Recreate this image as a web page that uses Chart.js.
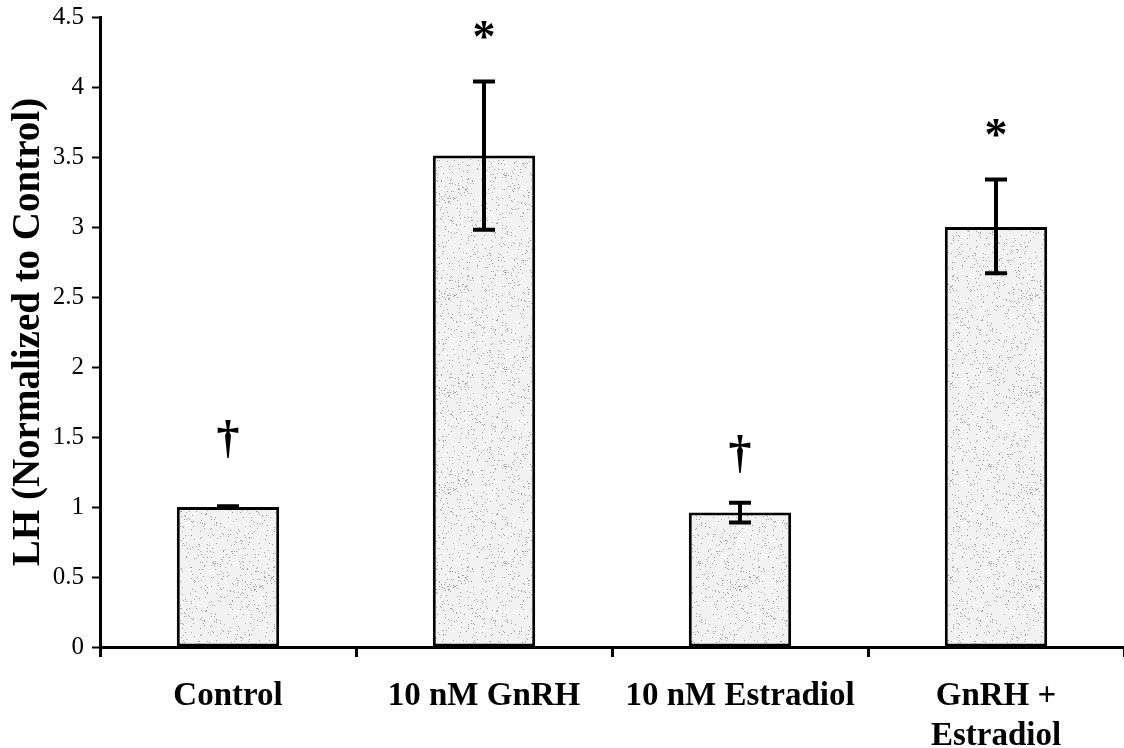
<!DOCTYPE html>
<html>
<head>
<meta charset="utf-8">
<script src="https://cdn.jsdelivr.net/npm/chart.js@4/dist/chart.umd.min.js"></script>
<style>
  html, body { margin: 0; padding: 0; background: #fff; overflow: hidden; }
  #wrap { width: 1124px; height: 748px; }
</style>
</head>
<body>
<div id="wrap"><canvas id="lhChart"></canvas></div>
<script>
  // values
  const groups = ['Control', '10 nM GnRH', '10 nM Estradiol', ['GnRH +', 'Estradiol']];
  const lhMean = [1.0, 3.51, 0.96, 3.0];
  const errLow = [0.995, 2.98, 0.89, 2.67];
  const errHigh = [1.005, 4.04, 1.03, 3.34];
  const marks = ['†', '*', '†', '*'];
  const markAt = [1.48, 4.39, 1.37, 3.69];
  const yTicks = [0, 0.5, 1, 1.5, 2, 2.5, 3, 3.5, 4, 4.5];

  const serif = '"Liberation Serif", "Times New Roman", serif';

  // light stipple fill like the print (fixed hash, not data)
  function stipple() {
    const c = document.createElement('canvas');
    c.width = 97; c.height = 97;
    const g = c.getContext('2d');
    g.fillStyle = '#f2f2f2';
    g.fillRect(0, 0, 97, 97);
    g.fillStyle = '#a0a0a0';
    for (let i = 0; i < 420; i++) {
      const h1 = Math.abs(Math.sin(i * 12.9898) * 43758.5453) % 1;
      const h2 = Math.abs(Math.sin(i * 78.233) * 24634.6345) % 1;
      g.fillRect(Math.floor(h1 * 97), Math.floor(h2 * 97), 1, 1);
    }
    return g.createPattern(c, 'repeat');
  }

  const errorBars = {
    id: 'errorBars',
    afterDatasetsDraw(chart) {
      const ctx = chart.ctx;
      const y = chart.scales.y;
      const meta = chart.getDatasetMeta(0);
      ctx.save();
      ctx.strokeStyle = '#000';
      ctx.lineWidth = 4;
      meta.data.forEach((bar, i) => {
        const top = y.getPixelForValue(errHigh[i]);
        const bot = y.getPixelForValue(errLow[i]);
        ctx.beginPath();
        ctx.moveTo(bar.x, top); ctx.lineTo(bar.x, bot);
        ctx.moveTo(bar.x - 11, top); ctx.lineTo(bar.x + 11, top);
        ctx.moveTo(bar.x - 11, bot); ctx.lineTo(bar.x + 11, bot);
        ctx.stroke();
      });
      // significance marks
      ctx.fillStyle = '#000';
      ctx.textAlign = 'center';
      ctx.textBaseline = 'middle';
      ctx.font = 'bold 46px ' + serif;
      meta.data.forEach((bar, i) => {
        const py = y.getPixelForValue(markAt[i]) + (marks[i] === '*' ? 8 : 0);
        ctx.fillText(marks[i], bar.x, py);
      });
      ctx.restore();
    }
  };

  new Chart(document.getElementById('lhChart'), {
    type: 'bar',
    data: {
      labels: groups,
      datasets: [{
        data: lhMean,
        backgroundColor: stipple(),
        borderColor: '#000',
        borderWidth: 3,
        borderSkipped: false,
        categoryPercentage: 1,
        barPercentage: 0.4
      }]
    },
    options: {
      responsive: true,
      maintainAspectRatio: false,
      animation: false,
      layout: { padding: { top: 17, right: 0, left: 0, bottom: 0 } },
      plugins: {
        legend: { display: false },
        tooltip: { enabled: false }
      },
      scales: {
        x: {
          offset: true,
          afterFit(s) { s.height = 101; s.paddingLeft = 0; s.paddingRight = 0; },
          border: { display: true, color: '#000', width: 3 },
          grid: {
            offset: true,
            drawOnChartArea: false,
            drawTicks: true,
            tickLength: 10,
            tickWidth: 3,
            tickColor: '#000'
          },
          ticks: {
            color: '#000',
            padding: 20,
            maxRotation: 0,
            autoSkip: false,
            font: { family: serif, size: 33, weight: 'bold', lineHeight: 1.2 }
          }
        },
        y: {
          min: 0,
          max: 4.5,
          afterFit(s) { s.width = 100; s.paddingTop = 0; s.paddingBottom = 0; },
          afterBuildTicks(s) { s.ticks = yTicks.map(v => ({ value: v })); },
          border: { display: true, color: '#000', width: 3 },
          grid: {
            drawOnChartArea: false,
            drawTicks: true,
            tickLength: 8,
            tickWidth: 2,
            tickColor: '#000'
          },
          ticks: {
            color: '#000',
            padding: 8,
            font: { family: serif, size: 25 },
            callback: v => String(v)
          },
          title: {
            display: true,
            text: 'LH (Normalized to Control)',
            color: '#000',
            padding: { top: 6, bottom: 0 },
            font: { family: serif, size: 39, weight: 'bold' }
          }
        }
      }
    },
    plugins: [errorBars]
  });
</script>
</body>
</html>
